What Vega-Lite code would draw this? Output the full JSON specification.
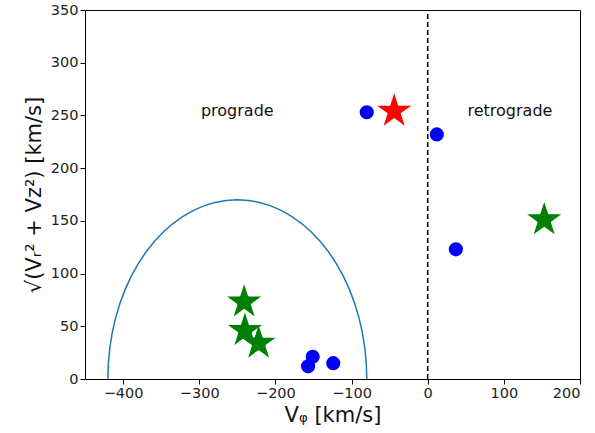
{
  "$schema": "https://vega.github.io/schema/vega-lite/v6.json",
  "width": 495,
  "height": 369,
  "autosize": "none",
  "padding": {"left": 85, "top": 10, "right": 15, "bottom": 54},
  "background": "white",
  "config": {
    "view": {"stroke": "black", "strokeWidth": 1},
    "font": "DejaVu Sans",
    "axis": {
      "grid": false,
      "domain": false,
      "tickColor": "black",
      "tickSize": 5,
      "labelFont": "DejaVu Sans",
      "labelFontSize": 14.5,
      "labelColor": "#222",
      "titleFont": "DejaVu Sans",
      "titleFontWeight": "normal",
      "titleColor": "#111",
      "titleFontSize": 21
    }
  },
  "layer": [
    {
      "data": {"values": [
        {"x": -80, "y": 0, "o": 0}, {"x": -80.65, "y": 14.82, "o": 5}, {"x": -82.58, "y": 29.52, "o": 10},
        {"x": -85.79, "y": 44.0, "o": 15}, {"x": -90.25, "y": 58.14, "o": 20}, {"x": -95.93, "y": 71.84, "o": 25},
        {"x": -102.78, "y": 85, "o": 30}, {"x": -110.74, "y": 97.51, "o": 35}, {"x": -119.78, "y": 109.27, "o": 40},
        {"x": -129.79, "y": 120.21, "o": 45}, {"x": -140.73, "y": 130.23, "o": 50}, {"x": -152.49, "y": 139.26, "o": 55},
        {"x": -165, "y": 147.22, "o": 60}, {"x": -178.16, "y": 154.07, "o": 65}, {"x": -191.86, "y": 159.75, "o": 70},
        {"x": -206.0, "y": 164.21, "o": 75}, {"x": -220.48, "y": 167.42, "o": 80}, {"x": -235.18, "y": 169.35, "o": 85},
        {"x": -250, "y": 170, "o": 90}, {"x": -264.82, "y": 169.35, "o": 95}, {"x": -279.52, "y": 167.42, "o": 100},
        {"x": -294.0, "y": 164.21, "o": 105}, {"x": -308.14, "y": 159.75, "o": 110}, {"x": -321.84, "y": 154.07, "o": 115},
        {"x": -335, "y": 147.22, "o": 120}, {"x": -347.51, "y": 139.26, "o": 125}, {"x": -359.27, "y": 130.23, "o": 130},
        {"x": -370.21, "y": 120.21, "o": 135}, {"x": -380.22, "y": 109.27, "o": 140}, {"x": -389.26, "y": 97.51, "o": 145},
        {"x": -397.22, "y": 85, "o": 150}, {"x": -404.07, "y": 71.84, "o": 155}, {"x": -409.75, "y": 58.14, "o": 160},
        {"x": -414.21, "y": 44.0, "o": 165}, {"x": -417.42, "y": 29.52, "o": 170}, {"x": -419.35, "y": 14.82, "o": 175},
        {"x": -420, "y": 0, "o": 180}
      ]},
      "mark": {"type": "line", "color": "#1f77b4", "strokeWidth": 1.5},
      "encoding": {
        "x": {"field": "x", "type": "quantitative", "scale": {"domain": [-450, 200], "nice": false, "zero": false},
              "axis": {"values": [-400, -300, -200, -100, 0, 100, 200], "title": "Vᵩ [km/s]", "titlePadding": 5}},
        "y": {"field": "y", "type": "quantitative", "scale": {"domain": [0, 350], "nice": false},
              "axis": {"values": [0, 50, 100, 150, 200, 250, 300, 350], "title": "√(Vᵣ² + Vz²)   [km/s]", "titlePadding": 6}},
        "order": {"field": "o", "type": "quantitative"}
      }
    },
    {
      "data": {"values": [{"x": 0, "y": 0}, {"x": 0, "y": 350}]},
      "mark": {"type": "line", "color": "black", "strokeWidth": 1.5, "strokeDash": [5, 3]},
      "encoding": {
        "x": {"field": "x", "type": "quantitative"},
        "y": {"field": "y", "type": "quantitative"}
      }
    },
    {
      "data": {"values": [
        {"x": -80, "y": 253}, {"x": 12, "y": 232}, {"x": 37, "y": 123},
        {"x": -151, "y": 21}, {"x": -157, "y": 12}, {"x": -124, "y": 15},
        {"x": -241, "y": 73}, {"x": -240, "y": 46}, {"x": -222, "y": 34}, {"x": 153, "y": 151}
      ]},
      "mark": {"type": "point", "shape": "circle", "filled": true, "color": "#0000ff", "opacity": 1, "size": 200},
      "encoding": {
        "x": {"field": "x", "type": "quantitative"},
        "y": {"field": "y", "type": "quantitative"}
      }
    },
    {
      "data": {"values": [
        {"x": -44, "y": 254, "g": "red"},
        {"x": -241, "y": 73, "g": "green"}, {"x": -240, "y": 46, "g": "green"}, {"x": -222, "y": 34, "g": "green"},
        {"x": 153, "y": 151, "g": "green"}
      ]},
      "mark": {"type": "point", "shape": "M0,-1L0.2245,-0.309L0.951,-0.309L0.363,0.118L0.588,0.809L0,0.382L-0.588,0.809L-0.363,0.118L-0.951,-0.309L-0.2245,-0.309Z", "filled": true, "opacity": 1, "size": 1280},
      "encoding": {
        "x": {"field": "x", "type": "quantitative"},
        "y": {"field": "y", "type": "quantitative"},
        "color": {"field": "g", "type": "nominal", "scale": {"domain": ["red", "green"], "range": ["#ff0000", "#008000"]}, "legend": null}
      }
    },
    {
      "data": {"values": [
        {"x": -250, "y": 254, "t": "prograde"},
        {"x": 108, "y": 254, "t": "retrograde"}
      ]},
      "mark": {"type": "text", "font": "DejaVu Sans", "fontSize": 16, "color": "#111", "baseline": "middle", "align": "center"},
      "encoding": {
        "x": {"field": "x", "type": "quantitative"},
        "y": {"field": "y", "type": "quantitative"},
        "text": {"field": "t"}
      }
    }
  ]
}
